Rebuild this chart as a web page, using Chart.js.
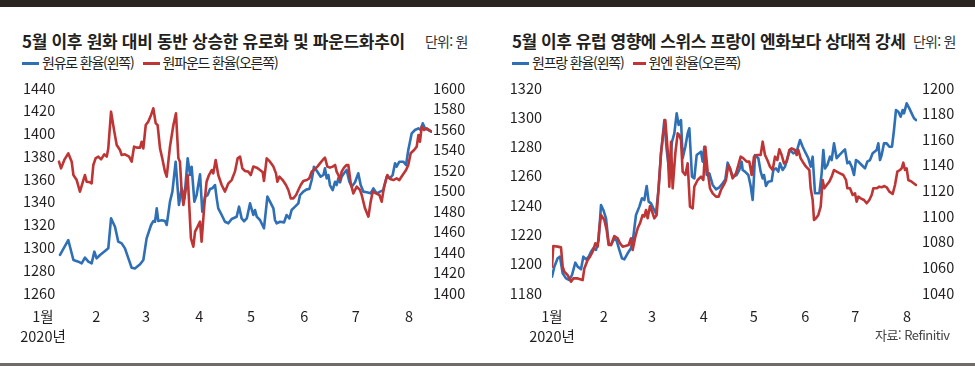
<!DOCTYPE html>
<html lang="ko">
<head>
<meta charset="utf-8">
<script src="https://cdn.jsdelivr.net/npm/chart.js@4.4.1/dist/chart.umd.min.js"></script>
<style>
  body { margin: 0; background: #fff; }
  #page { position: relative; width: 975px; height: 366px; overflow: hidden; font-family: 'Noto Sans CJK KR', sans-serif; color: #231f20; }
  .topbar { position: absolute; left: 0; top: 0; width: 975px; height: 7px; background: #2b2422; }
  .bottomline { position: absolute; left: 0; top: 363px; width: 975px; height: 3px; background: #6f6b69; }
  canvas { position: absolute; top: 0; }
  .title { position: absolute; top: 32px; font-size: 17px; line-height: 18px; font-weight: bold; letter-spacing: -0.3px; white-space: nowrap; }
  .unit { position: absolute; top: 33px; font-size: 14px; line-height: 16px; letter-spacing: -0.8px; color: #333; white-space: nowrap; }
  .legend { position: absolute; top: 54px; font-size: 14px; line-height: 16px; letter-spacing: -1.2px; white-space: nowrap; }
  .legend span.mark { display: inline-block; width: 17px; height: 3px; vertical-align: middle; margin-right: 3px; position: relative; top: -1px; }
  .legend span.gap { display: inline-block; width: 9px; }
  .source { position: absolute; left: 875px; top: 327px; font-size: 13px; line-height: 16px; letter-spacing: -0.5px; color: #444; white-space: nowrap; }
</style>
</head>
<body>
<div id="page">
  <div class="topbar"></div>

  <div class="title" style="left:22px">5월 이후 원화 대비 동반 상승한 유로화 및 파운드화추이</div>
  <div class="unit" style="left:425px">단위: 원</div>
  <div class="legend" style="left:22px"><span class="mark" style="background:#2e6fb6"></span>원유로 환율(왼쪽)<span class="gap"></span><span class="mark" style="background:#be3535"></span>원파운드 환율(오른쪽)</div>

  <div class="title" style="left:512px;letter-spacing:-0.45px">5월 이후 유럽 영향에 스위스 프랑이 엔화보다 상대적 강세</div>
  <div class="unit" style="left:913px">단위: 원</div>
  <div class="legend" style="left:512px"><span class="mark" style="background:#2e6fb6"></span>원프랑 환율(왼쪽)<span class="gap"></span><span class="mark" style="background:#be3535;width:13px"></span>원엔 환율(오른쪽)</div>

  <canvas id="euroChart" width="487" height="366" style="left:0"></canvas>
  <canvas id="francChart" width="488" height="366" style="left:487px"></canvas>

  <div class="source">자료: Refinitiv</div>
  <div class="bottomline"></div>
</div>

<script>
// x values are days counted from 1 January 2020

// Month ticks (shared by both charts)
const monthDays = [0, 31, 60, 91, 121, 152, 182, 213];
const monthLabels = [['1월', '2020년'], '2', '3', '4', '5', '6', '7', '8'];

// Left chart: won/euro (left axis) and won/pound (right axis)
const euroTicks = [1260, 1280, 1300, 1320, 1340, 1360, 1380, 1400, 1420, 1440];
const poundTicks = [1400, 1420, 1440, 1460, 1480, 1500, 1520, 1540, 1560, 1580, 1600];

const euroDays = [9.9, 14.7, 17.7, 20.6, 22.5, 24.4, 26.4, 28.3, 29.9, 31.2, 33.2, 36.1, 38.0, 39.6, 41.9, 43.8, 45.8, 47.7, 49.7, 51.6,
  53.5, 56.5, 58.4, 60.3, 62.9, 64.2, 65.2, 66.2, 67.1, 69.1, 71.0, 72.0, 73.9, 75.3, 77.2, 79.1, 80.7, 82.3, 84.2, 85.6,
  86.5, 88.1, 89.4, 91.4, 92.7, 94.3, 95.8, 97.2, 98.5, 100.1, 101.1, 102.0, 104.0, 105.9, 107.9, 109.8, 112.7, 114.1, 115.6, 117.0,
  118.6, 120.5, 122.4, 123.4, 124.4, 126.3, 128.6, 130.6, 132.1, 134.1, 135.0, 136.0, 138.0, 140.3, 141.8, 143.4, 144.7, 146.7, 148.6, 149.6,
  151.5, 153.5, 155.0, 156.4, 157.7, 159.7, 161.6, 163.2, 164.1, 165.1, 166.1, 167.0, 168.6, 170.0, 170.9, 171.9, 172.9, 173.8, 175.2, 176.7,
  178.3, 179.7, 181.6, 183.5, 184.9, 186.5, 188.4, 190.7, 192.3, 194.2, 196.2, 198.1, 200.0, 202.0, 203.5, 204.9, 205.8, 207.4, 209.7, 211.3,
  212.6, 214.6, 216.5, 218.5, 219.8, 221.0, 222.3, 224.3, 226.2];
const euroRates = [1293.4, 1306.5, 1289.0, 1287.5, 1286.0, 1291.0, 1287.5, 1286.0, 1296.3, 1290.4, 1293.4, 1296.9, 1299.2, 1325.5, 1318.2, 1305.1, 1303.6, 1299.2, 1290.4, 1282.2,
  1281.6, 1285.2, 1289.0, 1308.0, 1319.7, 1323.2, 1322.6, 1334.3, 1323.2, 1323.8, 1323.2, 1319.7, 1340.2, 1349.0, 1375.3, 1337.3, 1351.9, 1343.1, 1378.2, 1363.6,
  1370.9, 1340.2, 1346.0, 1364.2, 1331.4, 1344.6, 1346.0, 1351.3, 1351.9, 1354.8, 1343.1, 1334.3, 1328.5, 1322.6, 1321.2, 1325.0, 1327.0, 1335.8, 1325.5, 1323.0,
  1325.5, 1338.7, 1328.5, 1332.9, 1327.0, 1324.1, 1316.8, 1344.6, 1340.2, 1334.3, 1324.1, 1321.2, 1322.6, 1322.0, 1328.5, 1325.5, 1332.9, 1335.8, 1338.7, 1346.0,
  1349.0, 1351.0, 1351.3, 1359.2, 1370.9, 1366.5, 1362.1, 1363.6, 1369.5, 1360.7, 1363.6, 1354.8, 1350.4, 1357.7, 1354.8, 1360.7, 1357.2, 1362.1, 1365.1, 1368.0,
  1357.7, 1353.4, 1357.2, 1365.1, 1354.8, 1349.0, 1348.4, 1347.5, 1351.9, 1347.5, 1349.0, 1350.4, 1362.1, 1360.7, 1363.6, 1373.9, 1370.9, 1375.3, 1375.3, 1372.4,
  1385.6, 1400.2, 1403.1, 1404.6, 1403.1, 1409.0, 1404.6, 1403.1, 1401.6];

const poundDays = [9.3, 10.5, 12.4, 14.7, 16.7, 17.7, 19.6, 21.5, 23.5, 24.4, 25.4, 27.4, 28.3, 29.3, 30.6, 32.2, 33.8, 35.7, 37.1, 38.0,
  39.6, 41.5, 42.9, 44.8, 45.8, 47.7, 50.1, 51.6, 53.0, 54.5, 56.5, 57.4, 58.4, 59.8, 61.3, 62.9, 64.2, 65.6, 66.7, 68.1,
  69.4, 71.0, 72.0, 73.9, 75.9, 77.4, 78.8, 79.7, 80.7, 81.7, 82.6, 84.2, 85.0, 86.1, 87.5, 88.5, 90.0, 91.4, 92.3, 93.9,
  95.2, 96.6, 98.2, 99.1, 100.5, 102.0, 104.0, 105.9, 107.9, 109.8, 111.7, 113.3, 114.7, 116.0, 117.6, 119.5, 120.9, 122.4, 124.4, 126.3,
  127.9, 128.6, 130.2, 132.1, 134.1, 135.6, 136.4, 137.6, 139.5, 141.4, 142.8, 144.2, 145.7, 147.3, 148.6, 150.0, 151.5, 153.5, 155.0, 156.4,
  157.7, 159.7, 161.2, 162.8, 164.1, 165.5, 167.0, 168.6, 170.0, 170.9, 171.9, 172.9, 173.8, 175.2, 176.7, 177.7, 179.1, 180.6, 182.6, 184.5,
  185.5, 187.4, 189.4, 190.7, 191.9, 193.8, 195.8, 197.1, 198.5, 200.4, 202.0, 203.9, 205.8, 207.4, 209.3, 211.3, 212.6, 214.0, 216.0, 217.5,
  218.5, 219.4, 220.4, 221.8, 223.3, 225.6];
const poundRates = [1528.1, 1521.6, 1529.8, 1536.3, 1528.1, 1515.1, 1510.2, 1498.9, 1510.2, 1515.1, 1508.6, 1508.0, 1507.0, 1524.9, 1531.4, 1533.0, 1530.4, 1535.3, 1533.0, 1541.1,
  1576.9, 1557.4, 1544.4, 1539.5, 1534.6, 1535.3, 1533.0, 1528.1, 1542.8, 1541.8, 1541.8, 1547.6, 1541.1, 1563.9, 1567.2, 1573.7, 1580.2, 1565.5, 1563.9, 1541.1,
  1531.4, 1518.4, 1513.5, 1542.8, 1563.9, 1575.3, 1531.4, 1528.1, 1498.9, 1485.8, 1495.6, 1515.1, 1489.1, 1453.3, 1445.2, 1459.8, 1464.7, 1469.6, 1450.1, 1485.8,
  1508.6, 1515.1, 1520.0, 1516.7, 1529.8, 1515.1, 1505.4, 1498.9, 1507.0, 1510.2, 1518.4, 1531.4, 1533.0, 1521.6, 1519.0, 1518.4, 1515.1, 1523.3, 1522.3, 1520.0,
  1517.7, 1509.3, 1531.4, 1528.1, 1523.3, 1516.7, 1508.6, 1513.5, 1510.2, 1505.4, 1500.5, 1492.3, 1492.3, 1495.6, 1500.5, 1505.4, 1509.3, 1510.2, 1511.9, 1518.4,
  1520.0, 1523.3, 1526.5, 1529.8, 1532.0, 1523.3, 1522.3, 1523.3, 1524.9, 1518.4, 1515.1, 1510.2, 1518.4, 1522.3, 1524.9, 1524.9, 1507.0, 1497.2, 1503.7, 1500.5,
  1495.6, 1482.6, 1474.5, 1489.1, 1498.9, 1497.2, 1495.6, 1489.1, 1503.7, 1515.1, 1511.2, 1510.2, 1511.9, 1510.2, 1515.1, 1520.0, 1524.9, 1536.3, 1539.5, 1542.8,
  1554.1, 1547.6, 1562.3, 1559.0, 1560.6, 1558.0];

// Right chart: won/franc (left axis) and won/yen (right axis)
const francTicks = [1180, 1200, 1220, 1240, 1260, 1280, 1300, 1320];
const yenTicks = [1040, 1060, 1080, 1100, 1120, 1140, 1160, 1180, 1200];

const francDays = [0, 1.4, 3.4, 4.8, 6.4, 8.4, 10.4, 12.0, 14.0, 15.4, 17.4, 18.8, 20.4, 22.0, 23.4, 24.8, 26.4, 28.0, 29.4, 30.8,
  32.4, 34.0, 35.4, 37.4, 38.8, 40.4, 42.0, 43.4, 45.4, 47.4, 48.8, 50.4, 52.4, 54.0, 55.4, 56.8, 58.0, 59.4, 60.8, 62.4,
  64.0, 65.4, 67.4, 68.8, 70.4, 72.0, 73.4, 74.8, 76.0, 77.4, 78.4, 80.0, 81.4, 82.4, 84.0, 85.4, 86.8, 89.4, 90.4, 91.4,
  92.8, 94.4, 96.4, 98.4, 100.4, 102.4, 104.0, 105.4, 106.8, 108.4, 110.8, 112.4, 113.8, 114.4, 115.8, 117.8, 119.2, 120.4, 121.2, 121.8,
  123.8, 125.2, 126.4, 127.2, 128.4, 129.8, 131.8, 132.8, 134.4, 135.8, 136.8, 138.4, 139.8, 141.2, 142.8, 144.8, 146.8, 148.8, 150.4, 151.8,
  153.8, 155.2, 156.4, 157.8, 160.4, 161.8, 162.8, 163.8, 165.2, 166.8, 167.8, 169.2, 170.8, 172.4, 174.4, 175.8, 177.2, 178.4, 179.8, 181.2,
  182.4, 183.8, 185.8, 187.8, 189.2, 190.8, 192.4, 194.8, 195.8, 196.8, 197.8, 199.2, 200.8, 202.4, 204.0, 205.2, 206.4, 207.8, 209.2, 210.4,
  211.2, 212.8, 214.4, 215.8, 217.2, 218.4];
const francRates = [1191.2, 1198.0, 1203.7, 1204.8, 1193.4, 1190.0, 1188.9, 1192.3, 1200.7, 1198.0, 1196.2, 1204.8, 1203.0, 1204.8, 1208.2, 1210.5, 1209.4, 1216.2, 1240.1, 1236.7,
  1231.0, 1213.9, 1212.8, 1217.3, 1215.7, 1209.4, 1203.7, 1203.0, 1207.1, 1210.5, 1218.5, 1233.3, 1239.0, 1244.7, 1243.5, 1253.1, 1242.4, 1241.2, 1237.8, 1234.4,
  1251.5, 1275.4, 1298.1, 1277.7, 1262.9, 1283.3, 1289.0, 1302.7, 1294.7, 1298.1, 1272.0, 1279.9, 1289.0, 1292.5, 1259.4, 1258.3, 1274.2, 1276.5, 1269.7, 1279.9,
  1260.6, 1261.7, 1253.8, 1250.8, 1252.2, 1254.9, 1257.6, 1269.0, 1265.1, 1259.4, 1260.6, 1264.0, 1269.7, 1264.0, 1262.9, 1260.6, 1253.1, 1243.5, 1259.4, 1274.2,
  1272.0, 1262.9, 1258.3, 1260.6, 1253.1, 1256.0, 1256.5, 1264.0, 1265.1, 1262.9, 1268.6, 1264.0, 1266.3, 1272.0, 1277.7, 1275.4, 1276.5, 1284.5, 1279.9, 1276.5,
  1272.0, 1266.3, 1273.1, 1248.1, 1248.1, 1261.7, 1277.7, 1265.1, 1267.4, 1273.1, 1270.8, 1282.2, 1272.0, 1274.2, 1276.5, 1278.1, 1268.6, 1269.7, 1266.3, 1260.6,
  1270.8, 1269.7, 1267.4, 1265.1, 1269.7, 1270.8, 1275.4, 1277.7, 1282.2, 1270.8, 1274.2, 1282.2, 1282.2, 1279.9, 1279.9, 1291.3, 1305.0, 1303.8, 1300.4, 1305.0,
  1302.7, 1309.5, 1306.1, 1302.7, 1299.3, 1298.1];

const yenDays = [0, 0.8, 3.4, 5.4, 6.4, 7.4, 9.4, 11.4, 12.8, 15.4, 18.4, 19.4, 21.4, 22.8, 24.4, 26.0, 27.4, 28.4, 29.4, 31.4,
  32.8, 34.0, 35.4, 37.4, 39.4, 40.8, 42.4, 44.0, 46.0, 47.4, 48.4, 50.0, 51.4, 52.8, 54.4, 55.4, 56.4, 57.4, 58.8, 60.4,
  61.4, 62.8, 64.0, 65.4, 66.8, 68.0, 69.4, 70.4, 71.4, 72.4, 74.0, 75.4, 76.4, 77.4, 78.4, 80.0, 81.4, 82.8, 84.4, 85.4,
  87.4, 89.4, 90.8, 92.0, 93.4, 94.8, 96.4, 98.4, 100.0, 101.4, 103.4, 104.4, 105.8, 106.8, 108.4, 110.4, 111.8, 113.2, 114.8, 116.8,
  118.4, 119.8, 121.2, 122.8, 125.2, 126.4, 127.8, 129.2, 130.8, 132.4, 133.8, 135.2, 136.4, 137.8, 139.2, 140.8, 142.4, 143.8, 145.8, 146.8,
  147.8, 149.2, 150.4, 152.4, 154.4, 155.2, 156.4, 157.2, 158.4, 159.8, 161.2, 162.4, 163.4, 164.8, 166.4, 167.8, 169.2, 170.8, 172.8, 174.8,
  176.4, 177.2, 178.8, 180.4, 181.8, 182.8, 183.8, 185.2, 187.2, 188.8, 190.4, 191.8, 192.8, 194.8, 196.4, 197.8, 199.2, 200.8, 202.4, 204.4,
  205.8, 207.2, 208.8, 209.8, 210.8, 211.8, 212.8, 213.8, 215.8, 218.4];
const yenRates = [1060.5, 1076.7, 1076.2, 1075.6, 1060.5, 1056.6, 1054.0, 1048.8, 1051.4, 1051.4, 1050.1, 1059.2, 1065.7, 1068.3, 1072.2, 1078.8, 1076.2, 1090.5, 1100.9, 1097.0,
  1089.2, 1077.5, 1077.5, 1084.5, 1082.7, 1078.8, 1076.2, 1076.7, 1077.5, 1082.7, 1073.6, 1083.9, 1090.5, 1094.4, 1100.9, 1099.6, 1104.8, 1098.3, 1107.9, 1102.2,
  1098.3, 1100.9, 1123.0, 1149.0, 1164.6, 1175.0, 1151.6, 1123.0, 1158.1, 1121.7, 1149.0, 1164.6, 1163.3, 1159.4, 1134.7, 1132.1, 1141.2, 1107.4, 1106.1, 1123.0,
  1128.2, 1130.8, 1128.2, 1154.2, 1134.7, 1121.7, 1117.8, 1115.2, 1115.2, 1120.4, 1125.1, 1128.2, 1139.9, 1137.3, 1129.5, 1133.4, 1139.9, 1146.4, 1145.1, 1142.5,
  1142.5, 1132.1, 1146.4, 1147.7, 1147.7, 1158.1, 1147.7, 1143.8, 1138.6, 1136.0, 1146.4, 1143.8, 1152.1, 1147.7, 1141.2, 1142.5, 1151.6, 1152.9, 1151.6, 1147.7,
  1151.6, 1145.1, 1142.5, 1138.6, 1136.0, 1121.7, 1112.6, 1097.0, 1098.3, 1100.9, 1107.4, 1128.2, 1121.7, 1124.3, 1126.9, 1130.8, 1136.0, 1134.7, 1133.4, 1132.1,
  1128.2, 1121.7, 1121.7, 1116.5, 1117.8, 1111.3, 1115.2, 1113.9, 1112.6, 1110.0, 1112.6, 1116.5, 1121.7, 1121.7, 1123.0, 1122.5, 1123.5, 1122.5, 1119.1, 1117.3,
  1124.3, 1134.7, 1136.0, 1137.3, 1141.7, 1136.0, 1137.3, 1128.2, 1126.9, 1124.3];

const BLUE = '#2e6fb6';
const RED = '#be3535';
const tickFont = { family: "'Noto Sans CJK KR', sans-serif", size: 14.5, lineHeight: 1.38 };

function toPoints(days, values) {
    return days.map((d, i) => ({ x: d, y: values[i] }));
}

function fixedTicks(list) {
    return scale => { scale.ticks = list.map(v => ({ value: v })); };
}

// Build one dual-axis line chart
function makeChart(id, cfg) {
    return new Chart(document.getElementById(id), {
        type: 'line',
        data: {
            datasets: [
                // red first so it is painted on top
                { data: toPoints(cfg.redDays, cfg.redValues), yAxisID: 'yRight', borderColor: RED },
                { data: toPoints(cfg.blueDays, cfg.blueValues), yAxisID: 'yLeft', borderColor: BLUE }
            ]
        },
        options: {
            responsive: false,
            animation: false,
            events: [],
            layout: { padding: { left: cfg.padLeft, top: 88, right: 0, bottom: 0 } },
            elements: {
                line: { borderWidth: 2.6, tension: 0, borderJoinStyle: 'round', borderCapStyle: 'round' },
                point: { radius: 0 }
            },
            plugins: { legend: { display: false }, tooltip: { enabled: false } },
            scales: {
                x: {
                    type: 'linear',
                    min: 0,
                    max: cfg.xMax,
                    afterBuildTicks: fixedTicks(monthDays),
                    afterFit: s => { s.height = 366 - 293; },
                    grid: { display: false, drawTicks: false },
                    border: { display: false },
                    ticks: {
                        autoSkip: false,
                        maxRotation: 0,
                        padding: 13,
                        color: '#231f20',
                        font: tickFont,
                        callback: (v, i) => monthLabels[i]
                    }
                },
                yLeft: {
                    position: 'left',
                    min: cfg.leftTicks[0],
                    max: cfg.leftTicks[cfg.leftTicks.length - 1],
                    afterBuildTicks: fixedTicks(cfg.leftTicks),
                    afterFit: s => { s.width = cfg.leftWidth; },
                    grid: { display: false, drawTicks: false },
                    border: { display: false },
                    ticks: {
                        autoSkip: false,
                        mirror: cfg.leftMirror,
                        crossAlign: cfg.leftMirror ? 'far' : 'near',
                        padding: cfg.leftPad,
                        color: '#231f20',
                        font: tickFont,
                        callback: v => String(v)
                    }
                },
                yRight: {
                    position: 'right',
                    min: cfg.rightTicks[0],
                    max: cfg.rightTicks[cfg.rightTicks.length - 1],
                    afterBuildTicks: fixedTicks(cfg.rightTicks),
                    afterFit: s => { s.width = cfg.rightWidth; },
                    grid: { display: false, drawTicks: false },
                    border: { display: false },
                    ticks: {
                        autoSkip: false,
                        padding: cfg.rightPad,
                        color: '#231f20',
                        font: tickFont,
                        callback: v => String(v)
                    }
                }
            }
        }
    });
}

// left panel: the month axis starts left of the plotted data, so the
// left value labels sit over the plot edge (mirrored, right aligned)
makeChart('euroChart', {
    blueDays: euroDays, blueValues: euroRates,
    redDays: poundDays, redValues: poundRates,
    leftTicks: euroTicks, rightTicks: poundTicks,
    xMax: 226.4,
    padLeft: 13, leftWidth: 30, leftMirror: true, leftPad: -20,
    rightWidth: 55, rightPad: 1
});

makeChart('francChart', {
    blueDays: francDays, blueValues: francRates,
    redDays: yenDays, redValues: yenRates,
    leftTicks: francTicks, rightTicks: yenTicks,
    xMax: 219,
    padLeft: 0, leftWidth: 65, leftMirror: false, leftPad: 10,
    rightWidth: 58, rightPad: 5
});
</script>
</body>
</html>
